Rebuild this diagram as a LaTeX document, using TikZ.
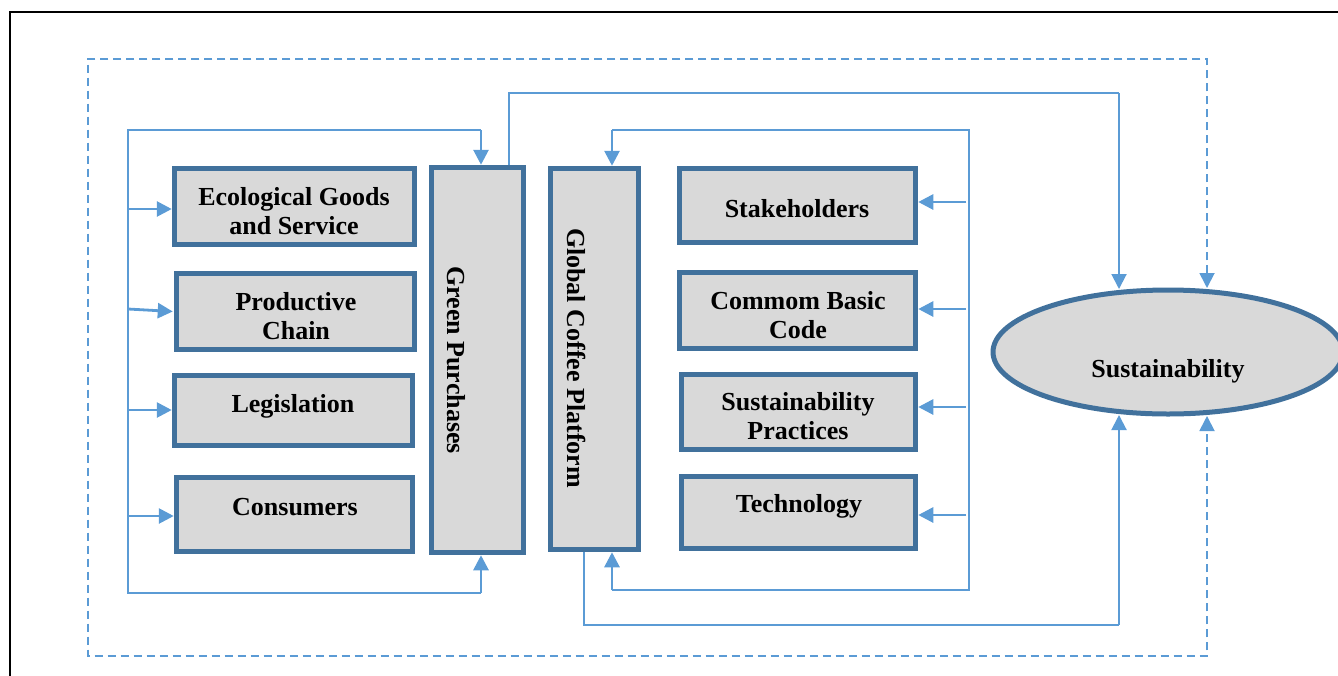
\documentclass[tikz,border=0pt]{standalone}
\usepackage{fontspec}
\setmainfont{Liberation Serif}
\usetikzlibrary{arrows.meta,calc,shapes.geometric}
\definecolor{boxc}{HTML}{41719C}
\definecolor{fillc}{HTML}{D9D9D9}
\definecolor{conn}{HTML}{5B9BD5}
\tikzset{
  box/.style={draw=boxc, line width=5.5pt, fill=fillc, inner sep=0pt},
  lbl/.style={font=\bfseries\fontsize{26}{29.5}\selectfont, align=center, anchor=base, inner sep=0pt},
  vlbl/.style={font=\bfseries\fontsize{26}{29.5}\selectfont, rotate=-90, inner sep=0pt},
  thinline/.style={draw=conn, line width=1.4pt},
  arr/.style={draw=conn, line width=2.8pt, -{Triangle[length=15pt,width=15pt]}},
  dashline/.style={draw=conn, line width=1.8pt, dash pattern=on 8pt off 5pt},
  tipboth/.style={{Triangle[length=15pt,width=15pt]}-{Triangle[length=15pt,width=15pt]}}
}
\begin{document}
\begin{tikzpicture}[x=1pt,y=-1pt]
\useasboundingbox (0,0) rectangle (1338,675);
% outer black frame
\coordinate (fbl) at (10,680);
\coordinate (ftl) at (10,12);
\coordinate (ftr) at (1345,12);
\draw[black, line width=2.5pt] (fbl) -- (ftl) -- (ftr);

% boxes
\node[box, minimum width=240pt, minimum height=76pt] (eco) at (294.5,206.5) {};
\node[box, minimum width=238pt, minimum height=76pt] (prod) at (295.5,311.5) {};
\node[box, minimum width=238pt, minimum height=70pt] (leg) at (293.5,410.5) {};
\node[box, minimum width=236pt, minimum height=74pt] (cons) at (294.5,514.5) {};
\node[box, minimum width=92pt, minimum height=385pt] (gp) at (477.5,360) {};
\node[box, minimum width=88pt, minimum height=381pt] (gcp) at (594.5,359) {};
\node[box, minimum width=236pt, minimum height=74pt] (stk) at (797.5,205.5) {};
\node[box, minimum width=236pt, minimum height=76pt] (cbc) at (797.5,310.5) {};
\node[box, minimum width=234pt, minimum height=75pt] (sp) at (798.5,412) {};
\node[box, minimum width=234pt, minimum height=72pt] (tech) at (798.5,512.5) {};
\node[draw=boxc, line width=5pt, fill=fillc, ellipse, minimum width=350pt, minimum height=124pt, inner sep=0pt] (sus) at (1168,352) {};

% labels (base = baseline of last line)
\node[lbl] (teco) at (294,234.5) {Ecological Goods\\and Service};
\node[lbl] (tprod) at (296,339.5) {Productive\\Chain};
\node[lbl] (tleg) at (293,412) {Legislation};
\node[lbl] (tcons) at (295,515) {Consumers};
\node[lbl] (tstk) at (797,217) {Stakeholders};
\node[lbl] (tcbc) at (798,338.5) {Commom Basic\\Code};
\node[lbl] (tsp) at (798,439.5) {Sustainability\\Practices};
\node[lbl] (ttech) at (799,512) {Technology};
\node[lbl] (tsus) at (1168,377) {Sustainability};
\node[vlbl] (tgp) at (456,360) {Green Purchases};
\node[vlbl] (tgcp) at (577,358) {Global Coffee Platform};

% left bracket
\coordinate (lt1) at (481,130);
\coordinate (lt0) at (128,130);
\coordinate (lb0) at (128,593);
\coordinate (lb1) at (481,593);
\draw[thinline] (lt1) -- (lt0) -- (lb0) -- (lb1);
\draw[arr] (lt1) -- (lt1 |- gp.north);
\draw[arr] (lb1) -- (lb1 |- gp.south);
\coordinate (la1) at (128,209);
\coordinate (la2) at (128,309);
\coordinate (la3) at (128,410);
\coordinate (la4) at (128,516);
\draw[arr] (la1) -- (la1 -| eco.west);
\draw[arr] (la2) -- ($(prod.west)+(-1,0)$);
\draw[arr] (la3) -- (la3 -| leg.west);
\draw[arr] (la4) -- (la4 -| cons.west);

% right bracket
\coordinate (rt1) at (612,130);
\coordinate (rt0) at (969,130);
\coordinate (rb0) at (969,590);
\coordinate (rb1) at (612,590);
\draw[thinline] (rt1) -- (rt0) -- (rb0) -- (rb1);
\draw[arr] (rt1) -- (rt1 |- gcp.north);
\draw[arr] (rb1) -- (rb1 |- gcp.south);
\coordinate (ra1) at (966,202);
\coordinate (ra2) at (966,309);
\coordinate (ra3) at (966,407);
\coordinate (ra4) at (966,515);
\draw[arr] (ra1) -- (ra1 -| stk.east);
\draw[arr] (ra2) -- (ra2 -| cbc.east);
\draw[arr] (ra3) -- (ra3 -| sp.east);
\draw[arr] (ra4) -- (ra4 -| tech.east);

% green purchases -> sustainability
\coordinate (g0) at (509,165);
\coordinate (g1) at (509,93);
\coordinate (g2) at (1119,93);
\coordinate (s1t) at (1119,289);
\draw[thinline] (g0) -- (g1) -- (g2);
\draw[arr, line width=2pt] (g2) -- (s1t);

% global coffee platform -> sustainability
\coordinate (c0) at (584,552);
\coordinate (c1) at (584,625);
\coordinate (c2) at (1119,625);
\coordinate (s1b) at (1119,415);
\draw[thinline] (c0) -- (c1) -- (c2);
\draw[arr, line width=2pt] (c2) -- (s1b);

% dashed loop
\coordinate (s2t) at (1207,288);
\coordinate (d1) at (1207,59);
\coordinate (d2) at (88,59);
\coordinate (d3) at (88,656);
\coordinate (d4) at (1207,656);
\coordinate (s2b) at (1207,416);
\draw[dashline, tipboth] (s2t) -- (d1) -- (d2) -- (d3) -- (d4) -- (s2b);
\end{tikzpicture}
\end{document}
